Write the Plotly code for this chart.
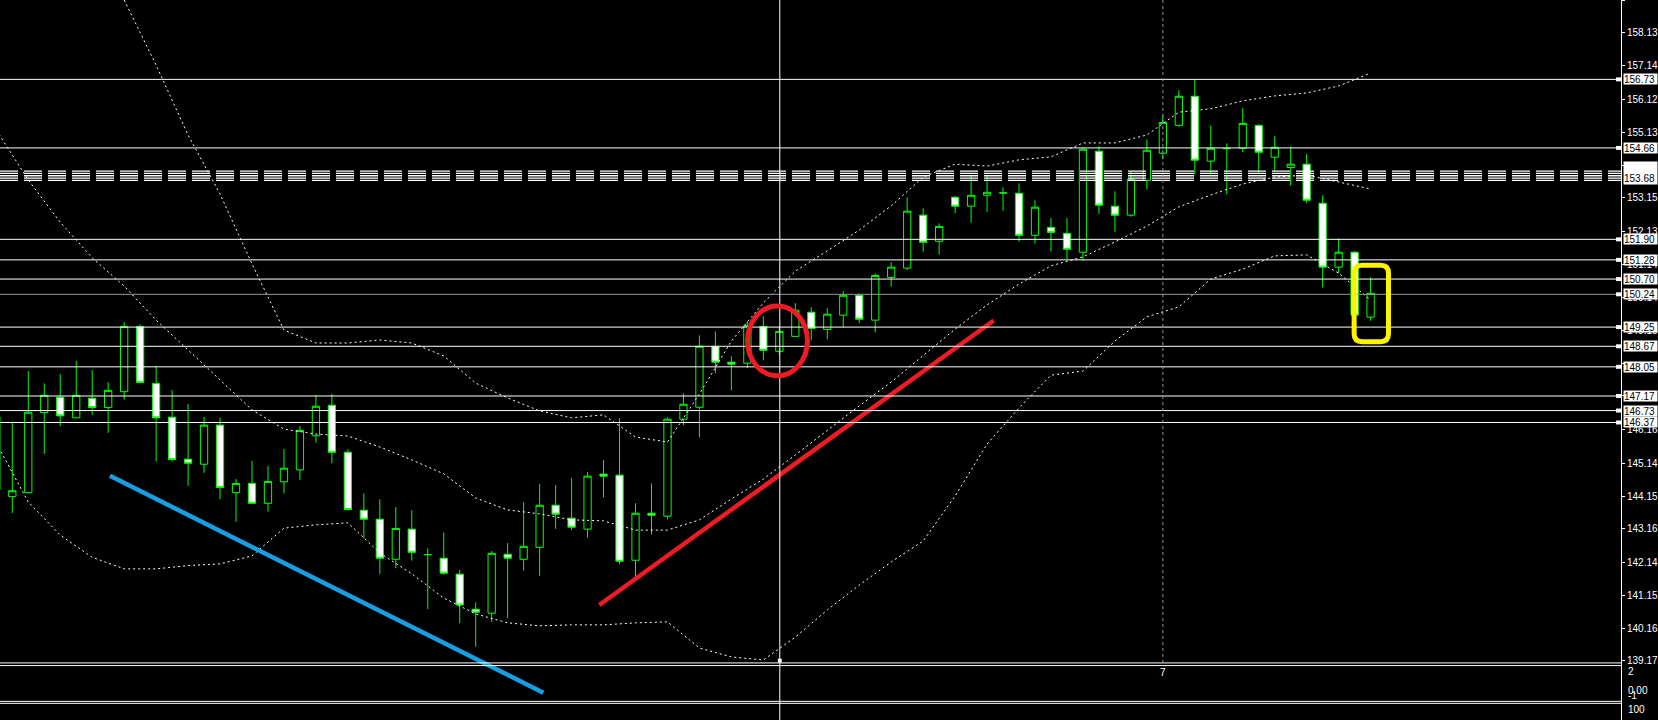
import plotly.graph_objects as go

# ---------------- data ----------------
candle_idx = list(range(-1, 86))
opens = [146.54, 144.13, 144.25, 146.67, 147.13, 146.51, 147.10, 146.82, 147.30, 149.27,
         147.55, 146.53, 145.26, 145.11, 146.29, 144.25, 144.53, 143.93, 144.58, 144.94,
         145.97, 146.89, 145.47, 143.72, 143.45, 142.24, 143.15, 142.38, 142.27, 141.79,
         140.73, 140.61, 142.39, 142.24, 142.60, 143.87, 143.48, 143.15, 144.81, 144.78,
         142.21, 143.63, 143.54, 146.47, 146.83, 148.67, 148.19, 148.16, 149.27, 148.52,
         148.97, 149.70, 149.18, 149.61, 150.21, 149.46, 150.75, 151.03, 152.63, 151.84,
         153.17, 152.90, 153.23, 153.30, 153.29, 152.02, 152.26, 152.08, 151.51, 154.56,
         152.90, 152.63, 153.68, 154.50, 155.34, 156.22, 154.26, 154.64, 154.65, 155.34,
         154.38, 154.07, 154.17, 152.99, 151.06, 151.51, 149.55]
highs = [146.75, 146.39, 147.92, 147.55, 147.83, 148.23, 147.95, 147.59, 149.40, 149.33,
         148.08, 147.35, 146.93, 146.54, 146.51, 144.66, 145.21, 145.06, 145.57, 146.26,
         147.20, 147.23, 145.56, 144.23, 144.05, 143.82, 143.72, 142.57, 143.05, 141.92,
         140.94, 142.49, 142.73, 143.96, 144.51, 144.48, 144.69, 144.87, 145.24, 146.50,
         143.93, 144.53, 146.53, 147.25, 149.00, 149.12, 148.37, 149.43, 149.58, 149.27,
         149.97, 149.85, 149.82, 150.33, 150.26, 150.87, 151.21, 153.17, 152.84, 152.38,
         153.21, 153.86, 153.86, 153.47, 153.59, 153.08, 152.54, 152.54, 154.68, 154.71,
         153.35, 153.95, 154.92, 155.65, 156.40, 156.73, 155.34, 154.80, 155.86, 155.37,
         155.01, 154.71, 154.47, 153.23, 151.93, 151.54, 150.75]
lows = [144.03, 143.63, 144.23, 145.42, 146.26, 146.51, 146.60, 146.06, 147.06, 147.55,
        145.19, 145.19, 144.46, 144.85, 144.05, 143.37, 143.93, 143.68, 144.23, 144.64,
        145.76, 145.14, 143.71, 142.87, 141.79, 141.97, 142.20, 140.73, 141.77, 140.31,
        139.60, 140.34, 140.46, 141.90, 141.74, 143.16, 143.12, 142.90, 144.11, 142.09,
        141.70, 142.99, 143.45, 146.29, 145.92, 147.86, 147.34, 148.01, 148.25, 148.40,
        148.95, 148.85, 148.88, 149.24, 149.37, 149.09, 150.47, 150.97, 151.53, 151.44,
        152.69, 152.40, 152.73, 152.76, 151.83, 151.77, 151.53, 151.30, 151.26, 152.67,
        152.13, 152.58, 153.41, 154.32, 155.30, 153.86, 153.83, 153.26, 154.53, 153.89,
        153.95, 153.52, 152.99, 150.45, 150.87, 149.53, 149.44]
closes = [144.33, 144.31, 146.68, 147.19, 146.57, 147.19, 146.82, 147.34, 149.27, 147.58,
          146.51, 145.25, 145.14, 146.29, 144.41, 144.53, 143.93, 144.59, 144.99, 146.13,
          146.86, 145.47, 143.74, 143.45, 142.27, 143.17, 142.45, 142.38, 141.82, 140.86,
          140.64, 142.42, 142.27, 142.63, 143.87, 143.60, 143.21, 144.75, 144.75, 142.18,
          143.63, 143.57, 146.47, 146.92, 148.67, 148.19, 148.13, 149.30, 148.55, 149.12,
          149.76, 149.21, 149.64, 150.21, 149.49, 150.81, 151.06, 152.75, 151.81, 152.29,
          152.90, 153.23, 153.32, 153.30, 152.02, 152.87, 152.11, 151.60, 154.62, 152.93,
          152.63, 153.71, 154.59, 155.43, 156.22, 154.29, 154.65, 154.64, 155.40, 154.53,
          154.68, 154.17, 153.08, 151.06, 151.51, 149.61, 150.27]

band_idx = list(range(-1, 86, 2))
band_upper = [164.71, 163.44, 161.87, 160.45, 159.13, 157.16, 155.05, 153.27, 151.16, 149.16,
              148.77, 148.77, 148.86, 148.77, 148.38, 147.56, 147.11, 146.72, 146.51, 146.60,
              145.93, 145.78, 147.23, 148.83, 149.98, 150.94, 151.55, 152.18, 152.91, 153.78,
              154.17, 154.11, 154.30, 154.39, 154.81, 154.81, 155.05, 155.74, 155.84, 156.08,
              156.23, 156.32, 156.53, 156.92]
band_middle = [155.20, 153.69, 152.42, 151.34, 150.49, 149.46, 148.56, 147.65, 146.75, 146.17,
               146.02, 145.96, 145.63, 145.24, 144.82, 144.09, 143.73, 143.61, 143.43, 143.40,
               143.12, 143.12, 143.43, 144.06, 144.66, 145.39, 146.14, 146.87, 147.59, 148.38,
               149.19, 149.92, 150.55, 151.10, 151.37, 151.82, 152.30, 152.88, 153.24, 153.57,
               153.78, 153.84, 153.63, 153.42]
band_lower = [145.75, 143.97, 142.97, 142.30, 141.95, 141.95, 142.05, 142.10, 142.34, 143.18,
              143.28, 143.34, 142.43, 141.80, 141.07, 140.59, 140.32, 140.23, 140.26, 140.26,
              140.32, 140.35, 139.56, 139.29, 139.20, 139.89, 140.71, 141.46, 142.16, 142.79,
              144.15, 145.72, 146.81, 147.80, 147.92, 148.83, 149.56, 149.86, 150.70, 151.00,
              151.40, 151.43, 150.88, 150.07]

tick_vals = [159.12, 158.13, 157.14, 156.12, 155.13, 154.14, 153.15, 152.13, 151.14, 150.14,
             149.15, 148.16, 147.17, 146.16, 145.14, 144.15, 143.16, 142.14, 141.15, 140.16, 139.17]
hidden_ticks = [154.14, 148.16, 147.17]   # fully covered by price-label boxes

level_lines = [156.73, 154.66, 151.90, 151.28, 150.70, 149.25, 148.67, 148.05, 147.17, 146.73, 146.37]
level_gray = [150.24]
level_dashed = [153.68, 153.75, 153.82, 153.89, 153.96]

blue_line_x = [6.11, 33.23]
blue_line_y = [144.76, 138.21]
red_line_x = [36.73, 61.42]
red_line_y = [140.86, 149.45]
red_circle = dict(x0=46.01, x1=49.76, y0=147.78, y1=149.89)
yellow_box = dict(x0=83.97, x1=86.12, y0=148.81, y1=151.12)
cross_idx = 48.03
sep_idx = 72

y_min, y_max = 137.387, 159.126
x_min, x_max = -0.769, 100.67

FONT = "Liberation Sans"

fig = go.Figure()
fig.add_trace(go.Candlestick(
    x=candle_idx, open=opens, high=highs, low=lows, close=closes,
    increasing=dict(line=dict(color="#00ff00", width=1), fillcolor="#000000"),
    decreasing=dict(line=dict(color="#00ff00", width=1), fillcolor="#ffffff"),
    whiskerwidth=0, hoverinfo="skip"))

for band in (band_upper, band_middle, band_lower):
    fig.add_trace(go.Scatter(x=band_idx, y=band, mode="lines",
                             line=dict(color="white", width=1, dash="2px,3px"),
                             hoverinfo="skip"))

fig.add_trace(go.Scatter(x=blue_line_x, y=blue_line_y, mode="lines",
                         line=dict(color="#14a0e4", width=4.5), hoverinfo="skip"))
fig.add_trace(go.Scatter(x=red_line_x, y=red_line_y, mode="lines",
                         line=dict(color="#ed1c24", width=4.5), hoverinfo="skip"))

shapes = []
for lv in level_lines:
    shapes.append(dict(type="line", xref="paper", x0=0, x1=1, yref="y", y0=lv, y1=lv,
                       line=dict(color="white", width=1)))
for lv in level_gray:
    shapes.append(dict(type="line", xref="paper", x0=0, x1=1, yref="y", y0=lv, y1=lv,
                       line=dict(color="#9a9a9a", width=1)))
for lv in level_dashed:
    shapes.append(dict(type="line", xref="paper", x0=0, x1=1, yref="y", y0=lv, y1=lv,
                       line=dict(color="white", width=1.3, dash="18px,6px")))
for lv in level_lines + level_gray:
    shapes.append(dict(type="rect", xref="x", x0=100.36, x1=100.67, yref="y",
                       y0=lv - 0.06, y1=lv + 0.06, fillcolor="white", line=dict(width=0)))

# window separators
for lv in (139.11, 139.03, 137.95, 137.89):
    shapes.append(dict(type="line", xref="paper", x0=0, x1=1, yref="y", y0=lv, y1=lv,
                       line=dict(color="white", width=1)))

# vertical crosshair and period separator
shapes.append(dict(type="line", xref="x", x0=cross_idx, x1=cross_idx, yref="paper", y0=0, y1=1,
                   line=dict(color="white", width=1)))
shapes.append(dict(type="rect", xref="x", x0=cross_idx - 0.12, x1=cross_idx + 0.12, yref="y",
                   y0=139.12, y1=139.24, fillcolor="white", line=dict(width=0)))
shapes.append(dict(type="line", xref="x", x0=sep_idx, x1=sep_idx, yref="y", y0=139.11, y1=y_max,
                   line=dict(color="#8a96a8", width=1, dash="3px,3px")))

# red ellipse
shapes.append(dict(type="circle", xref="x", yref="y", line=dict(color="#ed1c24", width=5),
                   **red_circle))
# yellow rounded box
yb = yellow_box
rx, ry = 0.5, 0.24
path = (f"M {yb['x0']+rx},{yb['y1']} L {yb['x1']-rx},{yb['y1']} "
        f"Q {yb['x1']},{yb['y1']} {yb['x1']},{yb['y1']-ry} "
        f"L {yb['x1']},{yb['y0']+ry} Q {yb['x1']},{yb['y0']} {yb['x1']-rx},{yb['y0']} "
        f"L {yb['x0']+rx},{yb['y0']} Q {yb['x0']},{yb['y0']} {yb['x0']},{yb['y0']+ry} "
        f"L {yb['x0']},{yb['y1']-ry} Q {yb['x0']},{yb['y1']} {yb['x0']+rx},{yb['y1']} Z")
shapes.append(dict(type="path", xref="x", yref="y", path=path,
                   line=dict(color="#fff200", width=5)))

annotations = []
for lv in level_lines + level_gray:
    annotations.append(dict(xref="paper", yref="y", x=1.0012, y=lv, xanchor="left", yanchor="middle",
                            text=f"{lv:.2f}", showarrow=False, bgcolor="white", borderpad=0,
                            width=33, height=10, align="left",
                            font=dict(color="black", size=10, family=FONT)))
annotations.append(dict(xref="paper", yref="y", x=1.0012, y=153.54, xanchor="left", yanchor="bottom",
                        text="153.68", showarrow=False, bgcolor="white", borderpad=0,
                        width=33, height=22, align="left", valign="bottom",
                        font=dict(color="black", size=10, family=FONT)))
annotations.append(dict(xref="x", yref="y", x=sep_idx, y=138.81, text="7", showarrow=False,
                        font=dict(color="white", size=10, family=FONT)))
for txt, yv in (("2", 138.84), ("0.00", 138.29), ("-1", 138.12), ("100", 137.69)):
    annotations.append(dict(xref="paper", yref="y", x=1.003, y=yv, xanchor="left", yanchor="middle",
                            text=txt, showarrow=False,
                            font=dict(color="white", size=10, family=FONT)))

fig.update_layout(
    width=1658, height=720, autosize=False,
    margin=dict(l=0, r=35, t=0, b=0, pad=0),
    paper_bgcolor="black", plot_bgcolor="black",
    showlegend=False, boxgap=0.35,
    shapes=shapes, annotations=annotations,
    xaxis=dict(range=[x_min, x_max], visible=False, showgrid=False, zeroline=False,
               rangeslider=dict(visible=False), fixedrange=True),
    yaxis=dict(range=[y_min, y_max], side="right", showgrid=False, zeroline=False,
               showline=True, linecolor="white", linewidth=1, ticks="outside", ticklen=3,
               tickcolor="white", tickvals=tick_vals,
               ticktext=["" if v in hidden_ticks else f"{v:.2f}" for v in tick_vals],
               tickfont=dict(color="white", size=10, family=FONT), fixedrange=True),
)

fig.write_html("out.html", config={"displayModeBar": False},
               post_script="document.body.style.margin='0';document.body.style.overflow='hidden';")
